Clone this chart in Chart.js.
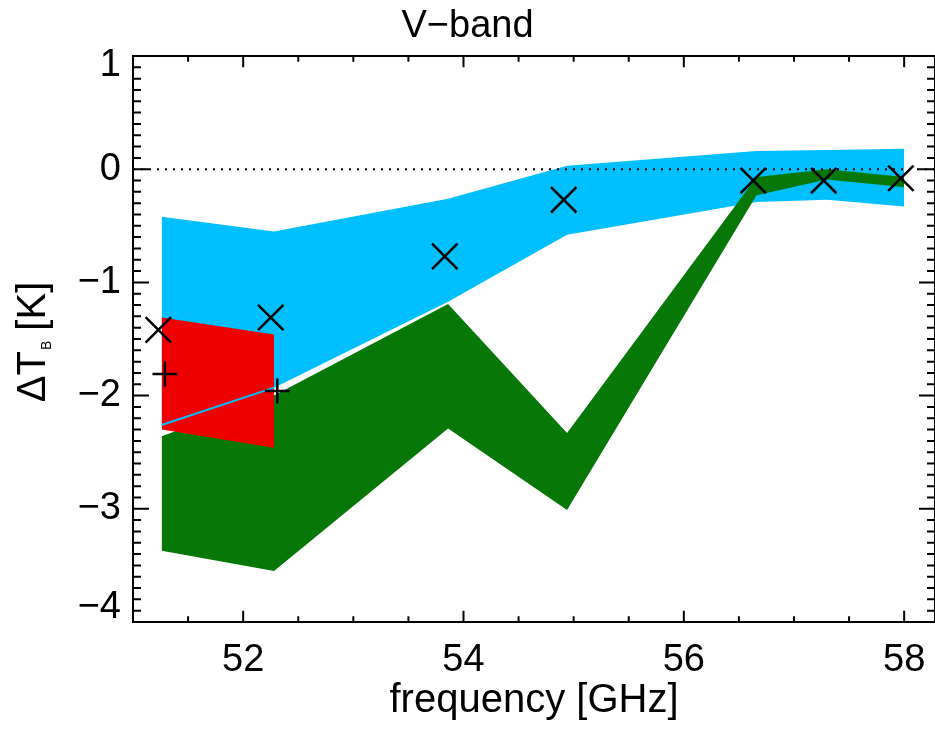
<!DOCTYPE html>
<html>
<head>
<meta charset="utf-8">
<script src="https://cdn.jsdelivr.net/npm/chart.js@4.4.1/dist/chart.umd.min.js"></script>
<style>
  html, body { margin: 0; padding: 0; background: #fff; }
  #wrap { width: 935px; height: 735px; }
</style>
</head>
<body>
<div id="wrap"><canvas id="vband" width="935" height="735"></canvas></div>
<script>
// channel frequencies [GHz]
var freq = [51.26, 52.28, 53.86, 54.94, 56.66, 57.30, 58.00];

// shaded ranges (upper / lower edge) per channel
var cyanHi  = [-0.42, -0.55, -0.26, 0.03, 0.16, 0.17, 0.18];
var cyanLo  = [-2.26, -1.93, -1.17, -0.58, -0.29, -0.27, -0.33];
var greenHi = [-2.36, -2.00, -1.19, -2.33, -0.07, 0.00, -0.07];
var greenLo = [-3.37, -3.55, -2.29, -3.01, -0.23, -0.09, -0.16];
var redFreq = [51.26, 52.28];
var redHi   = [-1.31, -1.46];
var redLo   = [-2.30, -2.46];

// blue line between first two channels
var lineFreq = [51.26, 52.28];
var lineVal  = [-2.26, -1.93];

// symbols (slightly shifted in frequency so they don't overlap)
var crossFreq = [51.23, 52.25, 53.83, 54.91, 56.63, 57.27, 57.97];
var crossVal  = [-1.42, -1.31, -0.77, -0.27, -0.10, -0.10, -0.08];
var plusFreq  = [51.29, 52.31];
var plusVal   = [-1.81, -1.96];

var xTicks = [52, 54, 56, 58];
var yTicks = [-4, -3, -2, -1, 0, 1];
var xMin = 51.0, xMax = 58.28, yMin = -4, yMax = 1;

var FONT = "'Liberation Sans', Arial, Helvetica, sans-serif";

function pts(xs, ys) {
    return xs.map(function (x, i) { return { x: x, y: ys[i] }; });
}

function band(data, color, fill, order) {
    return {
        data: data,
        borderWidth: 0,
        borderColor: color,
        backgroundColor: color,
        pointRadius: 0,
        fill: fill,
        tension: 0,
        order: order
    };
}

function minus(v) {
    return v < 0 ? '\u2212' + Math.abs(v) : String(v);
}

// IDL style frame: box, inward ticks on all sides, tick labels and y title
var idlFrame = {
    id: 'idlFrame',
    afterDraw: function (chart) {
        var ctx = chart.ctx;
        var a = chart.chartArea;
        var xs = chart.scales.x, ys = chart.scales.y;
        var i, v, p, len;
        ctx.save();
        ctx.strokeStyle = '#000';
        ctx.lineWidth = 2;
        ctx.beginPath();
        ctx.rect(a.left, a.top, a.right - a.left, a.bottom - a.top);
        for (i = Math.ceil(xMin * 2); i <= Math.floor(xMax * 2); i++) {
            v = i / 2;
            p = xs.getPixelForValue(v);
            len = (i % 4 === 0) ? 11.3 : 5.7;
            ctx.moveTo(p, a.bottom); ctx.lineTo(p, a.bottom - len);
            ctx.moveTo(p, a.top); ctx.lineTo(p, a.top + len);
        }
        for (i = Math.round(yMin * 10); i <= Math.round(yMax * 10); i++) {
            v = i / 10;
            p = ys.getPixelForValue(v);
            len = (i % 10 === 0) ? 16 : 8;
            ctx.moveTo(a.left, p); ctx.lineTo(a.left + len, p);
            ctx.moveTo(a.right, p); ctx.lineTo(a.right - len, p);
        }
        ctx.stroke();

        ctx.fillStyle = '#000';
        ctx.font = '38px ' + FONT;

        // x tick labels
        ctx.textAlign = 'center';
        ctx.textBaseline = 'alphabetic';
        xTicks.forEach(function (t) {
            ctx.fillText(String(t), xs.getPixelForValue(t), a.bottom + 49);
        });

        // y tick labels
        ctx.textAlign = 'right';
        ctx.textBaseline = 'middle';
        yTicks.forEach(function (t, k) {
            var shift = 0;
            if (k === 0) shift = -14;
            if (k === yTicks.length - 1) shift = 10;
            ctx.fillText(minus(t), a.left - 12, ys.getPixelForValue(t) + shift);
        });

        // y title: delta T with subscript B
        var big = '40px ' + FONT, small = '14px ' + FONT;
        ctx.font = big;
        var w1 = ctx.measureText('\u0394T').width;
        var w3 = ctx.measureText(' [K]').width;
        ctx.font = small;
        var w2 = ctx.measureText('B').width;
        var total = w1 + w2 + w3;
        ctx.translate(45, (a.top + a.bottom) / 2 + 3);
        ctx.rotate(-Math.PI / 2);
        ctx.textAlign = 'left';
        ctx.textBaseline = 'alphabetic';
        var x0 = -total / 2;
        ctx.font = big;
        ctx.fillText('\u0394T', x0, 0);
        ctx.font = small;
        ctx.fillText('B', x0 + w1 + 1, 6);
        ctx.font = big;
        ctx.fillText(' [K]', x0 + w1 + w2, 0);
        ctx.restore();
    }
};

var CYAN = '#00bfff', GREEN = '#077807', RED = '#ee0000';

var ctx = document.getElementById('vband').getContext('2d');
var chart = new Chart(ctx, {
    type: 'line',
    data: {
        datasets: [
            band(pts(freq, cyanHi), CYAN, '+1', 20),
            band(pts(freq, cyanLo), CYAN, false, 20),
            band(pts(freq, greenHi), GREEN, '+1', 18),
            band(pts(freq, greenLo), GREEN, false, 18),
            band(pts(redFreq, redHi), RED, '+1', 16),
            band(pts(redFreq, redLo), RED, false, 16),
            {
                data: [{ x: xMin, y: 0 }, { x: xMax, y: 0 }],
                borderColor: '#000',
                borderWidth: 2,
                borderDash: [2, 6],
                pointRadius: 0,
                fill: false,
                order: 10
            },
            {
                data: pts(lineFreq, lineVal),
                borderColor: CYAN,
                borderWidth: 2,
                pointRadius: 0,
                fill: false,
                order: 8
            },
            {
                data: pts(plusFreq, plusVal),
                showLine: false,
                pointStyle: 'cross',
                pointRadius: 12.5,
                pointBorderWidth: 2.5,
                borderColor: '#000',
                order: 4
            },
            {
                data: pts(crossFreq, crossVal),
                showLine: false,
                pointStyle: 'crossRot',
                pointRadius: 18,
                pointBorderWidth: 2.5,
                borderColor: '#000',
                order: 2
            }
        ]
    },
    options: {
        responsive: false,
        animation: false,
        events: [],
        layout: {
            autoPadding: false,
            padding: { left: 0, right: 0, top: 0, bottom: 0 }
        },
        plugins: {
            legend: { display: false },
            tooltip: { enabled: false },
            title: {
                display: true,
                text: 'V\u2212band',
                color: '#000',
                font: { family: FONT, size: 38, weight: 'normal' },
                padding: { top: 4, bottom: 6.4 }
            }
        },
        scales: {
            x: {
                type: 'linear',
                min: xMin,
                max: xMax,
                grid: { display: false },
                border: { display: false },
                afterBuildTicks: function (s) {
                    s.ticks = xTicks.map(function (v) { return { value: v }; });
                },
                afterFit: function (s) { s.height = 113; },
                ticks: { display: false },
                title: {
                    display: true,
                    text: 'frequency [GHz]',
                    color: '#000',
                    font: { family: FONT, size: 40 },
                    padding: { top: 0, bottom: 10 }
                }
            },
            y: {
                type: 'linear',
                min: yMin,
                max: yMax,
                grid: { display: false },
                border: { display: false },
                afterBuildTicks: function (s) {
                    s.ticks = yTicks.map(function (v) { return { value: v }; });
                },
                afterFit: function (s) { s.width = 133; },
                ticks: { display: false }
            }
        }
    },
    plugins: [idlFrame]
});
</script>
</body>
</html>
